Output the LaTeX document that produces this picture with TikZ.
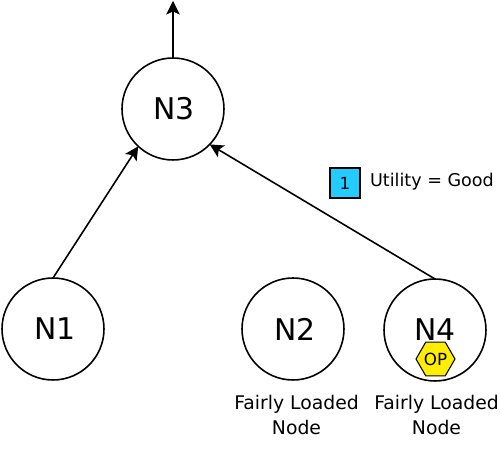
\documentclass[tikz,border=0pt]{standalone}
\usepackage{fontspec}
\setmainfont{DejaVu Sans}
\usepackage{tikz}
\usetikzlibrary{arrows.meta}
\usetikzlibrary{positioning}
\usetikzlibrary{shapes.geometric}
\definecolor{utilblue}{HTML}{22CCFF}
\definecolor{opyellow}{HTML}{FFEE00}
\tikzstyle{netnode} = [circle, minimum size=2.04cm, inner sep=0pt, outer sep=0pt, draw=black, line width=0.9pt, font=\fontsize{17}{18}\selectfont]
\tikzstyle{loadlabel} = [align=center, inner sep=0pt, font=\fontsize{10.7}{14.2}\selectfont]
\tikzstyle{opmark} = [regular polygon, regular polygon sides=6, minimum size=0.78cm, inner sep=0pt, draw=black, line width=0.6pt, fill=opyellow, font=\fontsize{9.5}{11}\selectfont]
\tikzstyle{utilbox} = [rectangle, minimum size=0.6cm, inner sep=0pt, draw=black, line width=1pt, fill=utilblue, font=\fontsize{9.5}{11}\selectfont]
\tikzstyle{link} = [-{Stealth[length=0.27cm, width=0.27cm, inset=0.06cm]}, line width=0.9pt]

\begin{document}
\begin{tikzpicture}[x=0.02cm, y=0.02cm]
 \useasboundingbox (0,0) rectangle (501,449);
 % network nodes
 \node (n3) [netnode] at (173,340) {\hspace{0.8pt}N3};
 \node (n1) [netnode] at (53,120) {\hspace{2pt}N1};
 \node (n2) [netnode] at (293,120) {\hspace{2pt}N2};
 \node (n4) [netnode] at (435,119) {N4};
 \coordinate (up) at (173,448);
 % operator on N4
 \node (op) [opmark] at (435.5,90) {OP};
 % utility legend
 \node (util) [utilbox] at (345,266) {1};
 \node (utiltext) [right=5pt of util.east, anchor=west, inner sep=0pt, font=\fontsize{10}{12}\selectfont, yshift=0.5pt] {Utility = Good};
 % load labels
 \node (load2) [loadlabel] at (296.5,34) {Fairly Loaded\\Node};
 \node (load4) [loadlabel] at (436.5,34) {Fairly Loaded\\Node};
 % links
 \draw [link] (n3.north) -- (up);
 \draw [link] (n1.north) -- (n3.227);
 \draw [link] (n4.north) -- (n3.-44);
\end{tikzpicture}
\end{document}
